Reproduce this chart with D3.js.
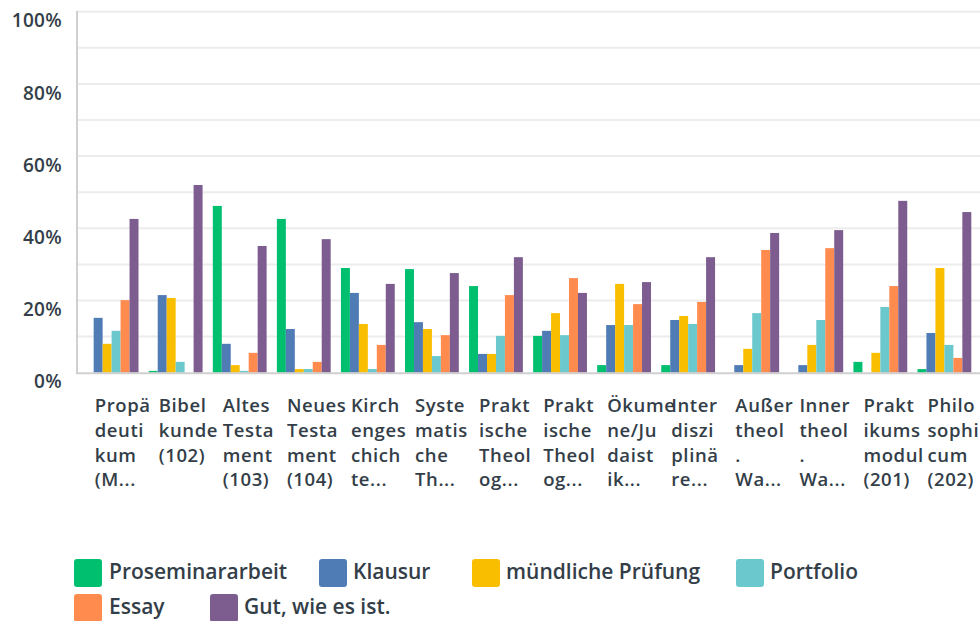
<!DOCTYPE html>
<html>
<head>
<meta charset="utf-8">
<script src="https://cdn.jsdelivr.net/npm/d3@7"></script>
<style>
  html, body { margin: 0; padding: 0; background: #fff; }
  svg { display: block; }
</style>
</head>
<body>
<div id="chart"></div>
<script>
const categories = [
  "Propädeutikum (M...", "Bibelkunde (102)", "Altes Testament (103)", "Neues Testament (104)",
  "Kirchengeschichte...", "Systematische Th...", "Praktische Theolog...", "Praktische Theolog... ",
  "Ökumene/Judaistik...", "Interdisziplinäre...", "Außertheol. Wa...", "Innertheol. Wa...",
  "Praktikumsmodul (201)", "Philosophicum (202)"
];
// wrapped tick label lines, as shown under the axis
const tickLines = [
  ["Propä", "deuti", "kum", "(M..."],
  ["Bibel", "kunde", "(102)"],
  ["Altes", "Testa", "ment", "(103)"],
  ["Neues", "Testa", "ment", "(104)"],
  ["Kirch", "enges", "chich", "te..."],
  ["Syste", "matis", "che", "Th..."],
  ["Prakt", "ische", "Theol", "og..."],
  ["Prakt", "ische", "Theol", "og..."],
  ["Ökume", "ne/Ju", "daist", "ik..."],
  ["Inter", "diszi", "plinä", "re..."],
  ["Außer", "theol", ".", "Wa..."],
  ["Inner", "theol", ".", "Wa..."],
  ["Prakt", "ikums", "modul", "(201)"],
  ["Philo", "sophi", "cum", "(202)"]
];
const series = ["Proseminararbeit", "Klausur", "mündliche Prüfung", "Portfolio", "Essay", "Gut, wie es ist."];
const colors = ["#00bf6f", "#507cb6", "#f9be00", "#6bc8cd", "#ff8b4f", "#7d5d8f"];

// percent values per series, one per category
const proseminararbeit = [0, 0.5, 46.2, 42.6, 29.0, 28.7, 24.0, 10.2, 2.1, 2.1, 0, 0, 3.0, 1.0];
const klausur          = [15.2, 21.5, 8.0, 12.1, 22.1, 14.0, 5.2, 11.6, 13.2, 14.6, 2.1, 2.1, 0, 11.0];
const muendlich        = [8.0, 20.7, 2.1, 1.0, 13.5, 12.1, 5.2, 16.5, 24.6, 15.7, 6.6, 7.7, 5.5, 29.0];
const portfolio        = [11.6, 3.0, 0.5, 1.0, 1.0, 4.6, 10.2, 10.4, 13.2, 13.5, 16.5, 14.6, 18.2, 7.7];
const essay            = [20.1, 0, 5.5, 3.0, 7.7, 10.4, 21.5, 26.2, 19.0, 19.6, 34.0, 34.5, 24.0, 4.1];
const gut              = [42.6, 52.0, 35.1, 37.0, 24.6, 27.6, 32.0, 22.1, 25.1, 32.0, 38.7, 39.5, 47.6, 44.5];
const values = [proseminararbeit, klausur, muendlich, portfolio, essay, gut];

const yTicks = [0, 20, 40, 60, 80, 100];
const yGrid = d3.range(0, 101, 10);

const width = 980;
const height = 621;
const textColor = "#333e48";

const svg = d3.select("#chart").append("svg")
  .attr("width", width)
  .attr("height", height)
  .attr("viewBox", [0, 0, width, height]);

const x0 = d3.scaleBand()
  .domain(categories)
  .range([77, 979])
  .paddingInner(0.16)
  .paddingOuter(0.12);

const x1 = d3.scaleBand()
  .domain(series)
  .range([0, x0.bandwidth()]);

const y = d3.scaleLinear([0, 100], [372.7, 11.7]);

// grid lines
svg.append("g")
  .selectAll("line")
  .data(yGrid.slice(1))
  .join("line")
  .attr("x1", 77)
  .attr("x2", width)
  .attr("y1", d => y(d))
  .attr("y2", d => y(d))
  .attr("stroke", "#ececec")
  .attr("stroke-width", 2);

// y tick labels
svg.append("g")
  .selectAll("text")
  .data(yTicks)
  .join("text")
  .attr("x", 62)
  .attr("y", d => y(d) + 9)
  .attr("dy", "0.35em")
  .attr("text-anchor", "end")
  .attr("fill", textColor)
  .attr("font-family", "'Open Sans', sans-serif")
  .attr("font-weight", 600)
  .attr("font-size", 19)
  .attr("letter-spacing", 0.3)
  .text(d => d + "%");

// bars
const groups = svg.append("g")
  .selectAll("g")
  .data(categories)
  .join("g")
  .attr("transform", d => `translate(${x0(d)},0)`);

groups.selectAll("rect")
  .data((d, i) => series.map((s, j) => ({ s, j, v: values[j][i] })))
  .join("rect")
  .attr("x", d => x1(d.s))
  .attr("width", x1.bandwidth())
  .attr("y", d => y(d.v))
  .attr("height", d => y(0) - y(d.v))
  .attr("fill", d => colors[d.j]);

// axis lines
svg.append("line")
  .attr("x1", 77).attr("x2", 77)
  .attr("y1", 11).attr("y2", y(0) + 1)
  .attr("stroke", "#d0d0d0")
  .attr("stroke-width", 2);
svg.append("line")
  .attr("x1", 76).attr("x2", width)
  .attr("y1", y(0) + 0.5).attr("y2", y(0) + 0.5)
  .attr("stroke", "#d0d0d0")
  .attr("stroke-width", 2);

// category labels
const labels = svg.append("g")
  .selectAll("text")
  .data(categories)
  .join("text")
  .attr("fill", textColor)
  .attr("font-family", "'Open Sans', sans-serif")
  .attr("font-weight", 600)
  .attr("font-size", 18.5)
  .attr("letter-spacing", 0.6);

labels.selectAll("tspan")
  .data((d, i) => tickLines[i].map(t => ({ t, c: d })))
  .join("tspan")
  .attr("x", d => x0(d.c) + 10)
  .attr("y", (d, k) => 406 + k * 24.6)
  .attr("dy", "0.35em")
  .text(d => d.t);

// legend
const legendPos = [
  { x: 74, y: 559, tx: 109 },
  { x: 319, y: 559, tx: 353 },
  { x: 472, y: 559, tx: 506 },
  { x: 736, y: 559, tx: 770 },
  { x: 74, y: 594, tx: 109 },
  { x: 210, y: 594, tx: 244 }
];

const legend = svg.append("g")
  .selectAll("g")
  .data(series)
  .join("g");

legend.append("rect")
  .attr("x", (d, i) => legendPos[i].x)
  .attr("y", (d, i) => legendPos[i].y)
  .attr("width", 28)
  .attr("height", 28)
  .attr("rx", 3)
  .attr("fill", (d, i) => colors[i]);

legend.append("text")
  .attr("x", (d, i) => legendPos[i].tx)
  .attr("y", (d, i) => legendPos[i].y + 13)
  .attr("dy", "0.35em")
  .attr("fill", textColor)
  .attr("font-family", "'Open Sans', sans-serif")
  .attr("font-weight", 600)
  .attr("font-size", 21)
  .text(d => d);
</script>
</body>
</html>
